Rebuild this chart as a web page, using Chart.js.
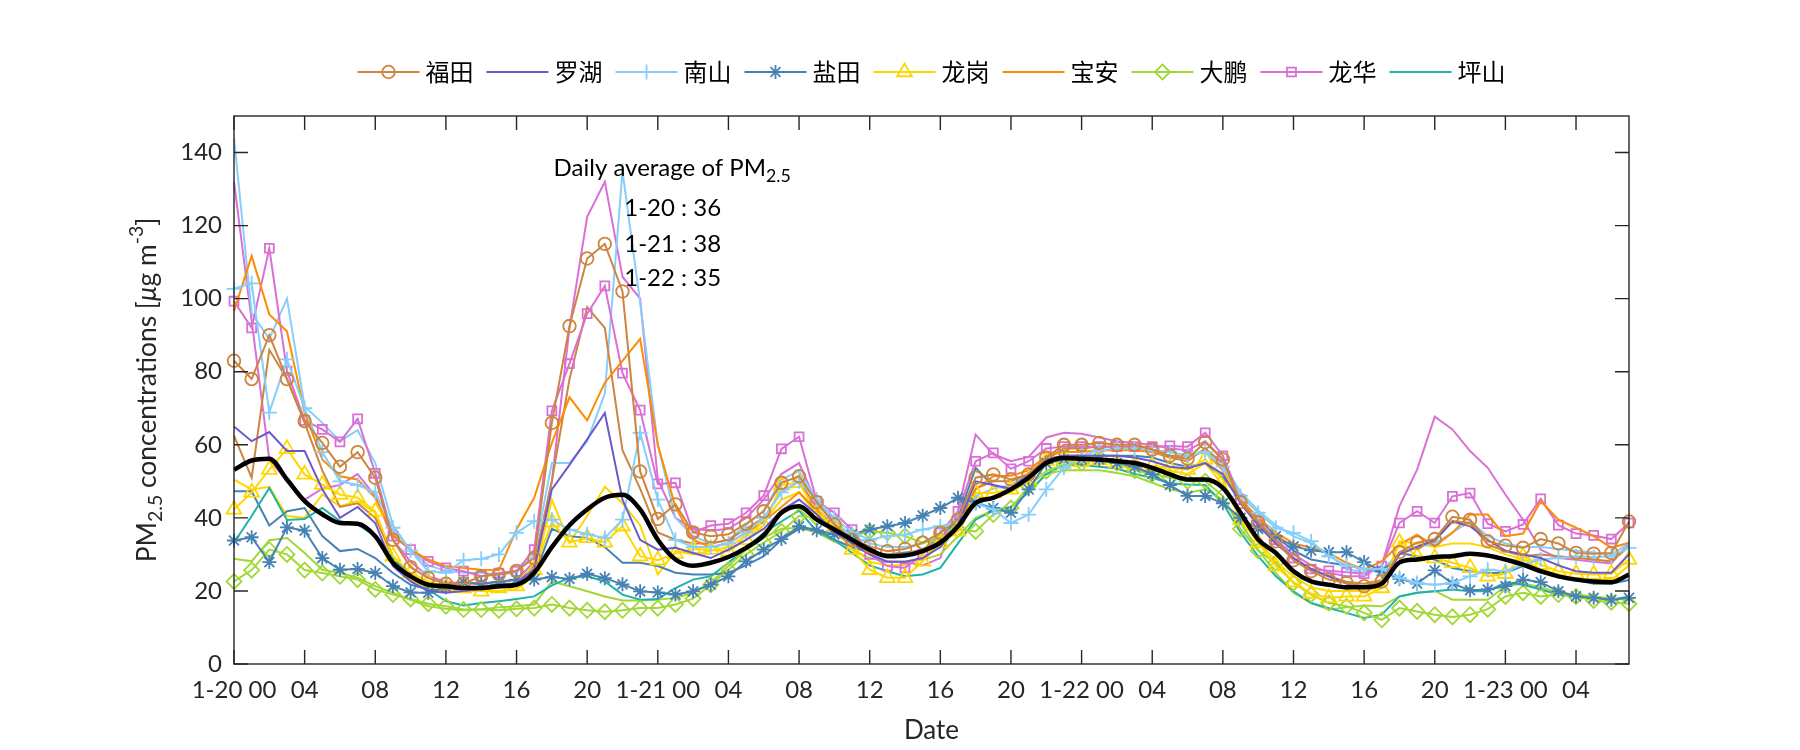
<!DOCTYPE html>
<html>
<head>
<meta charset="utf-8">
<script src="https://cdn.jsdelivr.net/npm/chart.js@4/dist/chart.umd.min.js"></script>
<style>
  html, body { margin: 0; padding: 0; background: #fff; }
  #wrap { width: 1800px; height: 750px; }
</style>
</head>
<body>
<div id="wrap"><canvas id="pm" width="1800" height="750"></canvas></div>
<script>
// hours since 1-20 00:00
var hours = Array.from({length: 80}, function (_, i) { return i; });
var tickLabels = ['1-20 00', '04', '08', '12', '16', '20', '1-21 00', '04', '08', '12', '16', '20',
                  '1-22 00', '04', '08', '12', '16', '20', '1-23 00', '04'];
var districts = ['福田', '罗湖', '南山', '盐田', '龙岗', '宝安', '大鹏', '龙华', '坪山'];
var dailyDays = ['1-20', '1-21', '1-22'];
var dailyMeans = [36, 38, 35];

// 福田
var futianA = [83, 78, 90, 78, 66.5, 60.5, 54, 58, 51, 34, 26.5, 23.5, 22, 22, 24, 24.5, 25.5, 29, 66, 92.5,
  111, 115, 102, 52.7, 39.7, 43.7, 36, 35, 35.5, 38.4, 41.8, 49.6, 51.4, 44.3, 38.2, 34, 32.2, 30.9, 31.5, 33.2,
  35.9, 39.5, 51, 51.9, 50.5, 51.9, 56.5, 60, 60, 60.5, 60, 60, 58.7, 57, 56.2, 60.7, 56, 44.3, 38.8, 33.6,
  28.4, 25.4, 23.1, 22.2, 21.3, 22.6, 30.6, 33.2, 34.2, 40.3, 39.5, 33.6, 32.4, 31.8, 34.2, 33, 30.4, 30.2, 30.4, 39];
var futianB = [62.5, 51, 86, 78, 66, 53, 43, 44, 40, 29.5, 24, 22, 21, 21, 21, 21.5, 22, 27, 50, 78,
  97.7, 92, 58.5, 48, 36, 34, 33, 33, 34, 37, 40, 47, 50, 43, 37, 33, 31, 29.5, 30, 31.5,
  34, 38, 48, 50, 50, 52, 56, 59, 59, 59.5, 59.5, 59, 58, 56.5, 55.5, 59, 55, 44, 38, 33,
  29, 26, 24, 22.5, 22, 23, 30.4, 32.2, 33.6, 39.1, 38.6, 32.7, 30.9, 29.5, 30, 29.5, 29, 28.6, 28.1, 32.2];
// 罗湖
var luohu = [65, 61, 63.5, 58.3, 58.3, 47.8, 40, 43, 38.6, 26.8, 22.6, 20, 19.5, 20, 20.5, 21, 22, 26, 47.8, 54.5,
  61.5, 68.7, 45, 34, 31.3, 31.8, 30.4, 29, 31.3, 34, 37, 42, 45, 41, 36, 33, 30, 28, 28, 29,
  32, 38, 50, 49, 48, 52, 56, 57, 57, 57, 57, 56.5, 55.5, 54, 53.5, 55, 52, 44, 38, 33,
  29, 26, 24, 22, 21, 22, 30, 32, 34, 39, 37.7, 34, 31, 30, 29, 27, 25.4, 25, 25, 30];
// 南山
var nanshanA = [102.7, 104.2, 68.8, 83.4, 70, 58, 50, 49, 47, 37.3, 31, 25.4, 25, 28.4, 28.8, 30, 35.9, 39.1, 39.5, 36.8,
  35.5, 34.5, 39.5, 63.3, 45, 34, 32, 32, 33, 36, 40, 47, 50, 45, 40, 36, 34, 35, 35.4, 36.8,
  37.7, 39.1, 44, 42.3, 38.6, 40.9, 47.8, 53.7, 57, 58.5, 59, 59, 58.5, 58, 57, 58, 54, 46, 41.4, 37.3,
  35.9, 33.6, 29.5, 27, 26, 26, 23.6, 22.2, 21.7, 22.2, 24, 25.8, 25.4, 27.2, 28.6, 29, 29.5, 29.3, 29.5, 31.8];
var nanshanB = [144, 96, 89, 100, 70.5, 66, 61, 64, 55, 38, 31, 27, 25.5, 25, 25, 24.5, 25, 30, 55, 55,
  61, 74, 135, 99, 60, 40, 35, 33, 34, 38, 42, 50.5, 52.8, 45, 39, 35, 33, 32, 32, 33,
  35, 38, 46, 48, 49, 52, 56, 59, 59.5, 59.5, 59.5, 59, 58.5, 58, 57, 58, 55, 47, 42, 38,
  35, 33, 30, 26, 25, 26, 30, 32, 33, 36, 39, 35, 33, 32, 32, 31.5, 31, 30.5, 30, 33];
// 盐田
var yantianA = [33.8, 34.7, 27.9, 37.4, 36.5, 29, 25.8, 26, 24.9, 21.3, 19.6, 19.5, 21, 22.4, 22, 22.5, 23.1, 23.1, 23.8, 23.3,
  24.7, 23.5, 21.8, 19.9, 19.6, 19, 19.9, 21.7, 24, 28.1, 31.3, 34.2, 37.7, 36.6, 35.5, 35.5, 36.8, 37.7, 38.6, 40.6,
  42.7, 45.5, 44.1, 42.7, 41.4, 47.8, 55, 56, 56, 56, 55, 54, 52, 49, 46, 46, 44, 40, 37, 35,
  32.2, 31.1, 30.6, 30.6, 27.9, 25.4, 23.3, 22, 25.6, 22, 20.2, 20.4, 21.3, 23.1, 22.4, 19.9, 18.5, 18.1, 17.6, 18.1];
var yantianB = [47.3, 47.3, 37.9, 41.8, 42.7, 35, 30.9, 31.5, 29, 24.9, 21.7, 20.4, 20, 21, 21, 22, 22, 24, 37, 35,
  34.5, 32, 27.7, 27.7, 26.8, 25, 24.5, 24.5, 25, 27, 29.5, 34, 37, 37, 34, 32, 30.5, 30, 30.5, 31,
  34, 40, 53.7, 48.7, 48, 51, 56, 57, 57, 57, 57, 57, 56.5, 55, 54, 55, 51, 45, 40, 35,
  31, 28.6, 27.7, 27, 26, 25, 30.4, 29.5, 28.6, 26.3, 25.4, 24.9, 25, 26.8, 25, 24, 23, 22, 22, 23];
// 龙岗
var longgangA = [42.3, 47, 53.2, 58.9, 51.9, 49.1, 46.4, 45.5, 41.8, 29.5, 24.9, 22.6, 21.3, 20.8, 19.9, 20.8, 21.3, 25.8, 38.8, 33.3,
  34.5, 33.3, 37.7, 29.5, 28.4, 30.2, 31.5, 31.3, 30.8, 34, 38, 49, 49.6, 41.4, 37.7, 31.3, 25.8, 23.6, 23.6, 28.1,
  33.2, 36.3, 46.8, 46.8, 47.8, 50.5, 55.7, 56.2, 55.3, 55.8, 55, 54.6, 54.2, 53.7, 53.2, 56, 50.5, 39.5, 33.2, 26.8,
  22.4, 19.3, 18.1, 18.5, 18.5, 20.8, 33.2, 29.5, 29, 27.7, 26.3, 24, 24.7, 29.5, 27.2, 25.4, 24.7, 24.5, 24.7, 28.6];
var longgangB = [50.5, 47.8, 48.5, 40.5, 40, 46.4, 43.2, 44.6, 41.4, 27.7, 23, 21, 20.5, 20, 20, 20, 20.5, 24, 45, 33.2,
  40.5, 48.5, 44, 38, 24.5, 30.9, 30, 31, 32, 35, 39, 45, 47, 41, 36, 32, 28, 27, 27, 29,
  33, 37, 44, 46, 47, 50, 55, 57, 57, 56, 56, 55, 54, 53, 52, 55, 49, 40, 34, 28,
  24, 21, 20, 20, 20, 21, 33.6, 33, 32, 33, 33, 32, 30, 28.6, 26, 24.5, 23.5, 23, 23, 27];
// 宝安
var baoan = [96.6, 111.7, 95.7, 91.1, 68.8, 56, 51.4, 50.5, 45.5, 35.4, 31.3, 28.6, 26.8, 26.3, 25.8, 25.7, 36.8, 45.5, 60.5, 73,
  66.7, 77, 83, 89, 60, 43, 34, 32, 33, 36, 39, 43, 47, 42, 37, 33, 30, 30, 30, 31,
  33, 37, 47.8, 51.4, 51.5, 53, 57, 58, 58, 58.5, 58.5, 58.5, 58, 57, 57, 58, 53, 45, 40, 36,
  33, 31.8, 30.4, 27.7, 25.8, 28.1, 32.7, 35.4, 32.2, 35.9, 40.9, 40.9, 35, 35.7, 44.6, 39.5, 37.3, 35, 31.8, 33.2];
// 大鹏
var dapengA = [22.6, 25.7, 31.3, 30, 25.7, 24.9, 24, 23.1, 20.4, 19, 17.8, 16.5, 15.8, 14.9, 14.9, 14.7, 15.1, 15.3, 16.3, 15.3,
  14.7, 14.3, 14.7, 15.3, 15.3, 16.3, 17.9, 21.7, 25.8, 30, 33.2, 36.3, 40.5, 40, 37.7, 35, 36.3, 35.9, 35, 33.2,
  34, 36.8, 36.3, 40.9, 42.7, 48.7, 52.8, 54.6, 55, 56.5, 55, 53, 52, 51, 50, 50, 46, 37, 31, 27.7,
  22.2, 19, 16.7, 15.8, 14, 12.1, 15.3, 14.4, 13.5, 12.9, 13.5, 15, 18.5, 19.5, 18.5, 19, 18.5, 17.4, 16.9, 16.5];
var dapengB = [28.8, 28.1, 33.9, 34.5, 30.4, 25.8, 24.9, 23.6, 21.3, 19.5, 17.6, 15.8, 15.1, 14.7, 15, 15.5, 15.8, 16.3, 22.6, 21.3,
  19.9, 18.5, 17.4, 17.4, 17.6, 18.1, 19.5, 22.2, 26.8, 31.3, 34.5, 37, 37.3, 36, 33.5, 31.3, 29, 28, 28, 28.5,
  30, 35, 40, 42, 43, 47, 52, 53, 53, 53, 52.3, 51.4, 49.6, 47.8, 46.8, 47.8, 45, 38.6, 31.3, 24.9,
  19.5, 16.7, 14.9, 15.5, 16, 15.8, 18.5, 19.5, 20, 17.6, 17.6, 17.6, 21.3, 22, 21, 19.5, 19, 18.5, 18, 17.5];
// 龙华
var longhuaA = [99.3, 92, 113.8, 80.2, 66.7, 64.2, 60.8, 67.1, 52.2, 35, 31.3, 28.1, 26.3, 25.4, 24, 24.9, 25.4, 31.3, 69.3, 82.2,
  95.9, 103.5, 79.6, 69.5, 49.3, 49.6, 36.1, 37.9, 38.4, 41.4, 46.1, 58.9, 62.2, 44.6, 41.4, 36.8, 30, 26.8, 26.3, 30,
  35.9, 41.8, 55.5, 57.8, 53.4, 55.5, 59, 59.5, 59.5, 59.5, 59.5, 59.5, 59.5, 59.7, 59.5, 63.3, 57, 45, 39, 34,
  29, 26, 25.5, 25.1, 24.7, 26.8, 38.6, 41.8, 38.6, 45.9, 46.8, 38.4, 36.3, 38.2, 45.2, 38, 35.7, 35.2, 34.2, 38.6];
var longhuaB = [132, 94, 56, 50, 45, 48, 49, 52, 46, 34, 28, 24, 22.5, 22, 22, 22.5, 23, 28, 50, 92,
  122.4, 132, 106, 100, 50.5, 40, 37, 36.5, 37, 40, 45, 52, 55, 44, 39, 34, 30, 28, 28, 27,
  29, 42, 62.8, 57.4, 55.5, 56.7, 62, 63.3, 63, 62, 61, 60.5, 60, 59, 58.5, 61, 56, 45, 39, 34,
  30, 27, 25, 24, 24, 27, 43.2, 53.2, 67.7, 64.2, 58.3, 53.7, 46.4, 39.5, 31.3, 29, 28.5, 28, 27.5, 33];
// 坪山
var pingshan = [33.2, 40.5, 48.2, 39.4, 39.7, 42.7, 39.1, 38.2, 35, 29, 24, 20.4, 17.2, 16, 16.7, 17.2, 17.8, 18.5, 21.5, 23.6,
  24, 22.6, 19, 17.6, 17.8, 20.8, 23.1, 24, 27.7, 31.8, 35.9, 39, 42, 36.3, 34, 30.4, 27, 25.4, 24, 24.5,
  26.3, 33, 39.5, 42, 43, 47, 52, 54.5, 54.5, 54, 53.5, 52, 51, 49.5, 49.1, 49, 44, 36, 29.5, 24,
  19.9, 16.7, 15.3, 14, 12.6, 13.5, 18.5, 19.5, 19.9, 20.4, 19.9, 19.9, 22.4, 21.7, 20.4, 19, 18.5, 18.1, 17.6, 18.5];
// average of all stations
var average = [53.2, 55.7, 56.2, 50.5, 44.6, 41, 38.6, 38.4, 35, 27.7, 24, 21.7, 21.3, 20.8, 20.8, 21.3, 21.7, 25, 32, 38,
  42.3, 45.5, 46.3, 42.3, 34, 28.6, 26.9, 27.7, 29.3, 31.8, 35.2, 41.4, 43.2, 39.5, 36.8, 34, 31.3, 29.5, 29.7, 30.9,
  33.2, 37.7, 44.1, 45.5, 47.8, 51, 55, 56.4, 56.2, 56, 55.5, 55, 53.7, 51.9, 50.5, 50.5, 48.2, 41.4, 34.1, 30.4,
  25.4, 22.6, 21.7, 21, 21, 22, 27.8, 28.6, 29.3, 29.5, 30.2, 29.7, 28.6, 27.2, 25.4, 24, 23.1, 22.6, 22.4, 24.5];

var colors = ['#CD853F', '#6A5ACD', '#87CEFA', '#4682B4', '#FFD700', '#FF8C00', '#A2D836', '#DA70D6', '#20B2AA'];
var markers = ['circle', null, 'cross', 'star', 'triangle', null, 'rectRot', 'rect', null];
var markerSize = {circle: 6.3, cross: 7.5, star: 7, triangle: 8.5, rectRot: 7.5, rect: 6.3};

function pts(values) {
  return values.map(function (v, i) { return {x: hours[i], y: v}; });
}

function station(d, values, withMarker) {
  var m = withMarker ? markers[d] : null;
  return {
    label: districts[d],
    inLegend: withMarker,
    data: pts(values),
    borderColor: colors[d],
    borderWidth: 2,
    pointStyle: m || 'circle',
    pointRadius: m ? markerSize[m] : 0,
    pointBorderWidth: 1.8,
    pointBorderColor: colors[d],
    pointBackgroundColor: 'rgba(0,0,0,0)',
    tension: 0,
    clip: false,
    order: withMarker ? 10 : 20
  };
}

var datasets = [
  station(0, futianA, true),
  station(1, luohu, true),
  station(2, nanshanA, true),
  station(3, yantianA, true),
  station(4, longgangA, true),
  station(5, baoan, true),
  station(6, dapengA, true),
  station(7, longhuaA, true),
  station(8, pingshan, true),
  station(0, futianB, false),
  station(2, nanshanB, false),
  station(3, yantianB, false),
  station(4, longgangB, false),
  station(6, dapengB, false),
  station(7, longhuaB, false),
  {
    label: 'average',
    inLegend: false,
    data: pts(average),
    borderColor: '#000',
    borderWidth: 4.5,
    pointRadius: 0,
    cubicInterpolationMode: 'monotone',
    clip: false,
    order: 0
  }
];

var tickFont = {family: 'Lato', size: 24};
var axisColor = '#262626';

function drawMarker(ctx, style, x, y, r) {
  ctx.beginPath();
  if (style === 'circle') {
    ctx.arc(x, y, r, 0, Math.PI * 2);
  } else if (style === 'cross') {
    ctx.moveTo(x - r, y); ctx.lineTo(x + r, y);
    ctx.moveTo(x, y - r); ctx.lineTo(x, y + r);
  } else if (style === 'star') {
    var k = r * Math.SQRT1_2;
    ctx.moveTo(x - r, y); ctx.lineTo(x + r, y);
    ctx.moveTo(x, y - r); ctx.lineTo(x, y + r);
    ctx.moveTo(x - k, y - k); ctx.lineTo(x + k, y + k);
    ctx.moveTo(x - k, y + k); ctx.lineTo(x + k, y - k);
  } else if (style === 'triangle') {
    ctx.moveTo(x, y - r);
    ctx.lineTo(x + r * Math.sin(Math.PI * 2 / 3), y - r * Math.cos(Math.PI * 2 / 3));
    ctx.lineTo(x + r * Math.sin(Math.PI * 4 / 3), y - r * Math.cos(Math.PI * 4 / 3));
    ctx.closePath();
  } else if (style === 'rectRot') {
    ctx.moveTo(x, y - r); ctx.lineTo(x + r, y); ctx.lineTo(x, y + r); ctx.lineTo(x - r, y);
    ctx.closePath();
  } else if (style === 'rect') {
    var s = r * Math.SQRT1_2;
    ctx.rect(x - s, y - s, 2 * s, 2 * s);
  }
  ctx.stroke();
}

// text runs with sub- and superscripts
function richText(ctx, parts, x, y, size, align) {
  var fontOf = function (p) {
    var sz = p[1] === 'sub' || p[1] === 'sup' ? size * 0.74 : size;
    return (p[1] === 'it' ? 'italic ' : '') + sz + 'px Lato';
  };
  var total = 0;
  parts.forEach(function (p) { ctx.font = fontOf(p); total += ctx.measureText(p[0]).width; });
  var cx = align === 'center' ? x - total / 2 : x;
  ctx.textAlign = 'left';
  ctx.textBaseline = 'middle';
  parts.forEach(function (p) {
    ctx.font = fontOf(p);
    var dy = p[1] === 'sub' ? size * 0.33 : (p[1] === 'sup' ? -size * 0.38 : 0);
    ctx.fillText(p[0], cx, y + dy);
    cx += ctx.measureText(p[0]).width;
  });
}

var decor = {
  id: 'decor',
  afterDatasetsDraw: function (chart) {
    var ctx = chart.ctx, a = chart.chartArea, xs = chart.scales.x, ys = chart.scales.y;
    ctx.save();
    // axes box with inward ticks
    ctx.strokeStyle = axisColor;
    ctx.lineWidth = 1.4;
    ctx.strokeRect(a.left, a.top, a.right - a.left, a.bottom - a.top);
    ctx.beginPath();
    xs.ticks.forEach(function (t) {
      var px = xs.getPixelForValue(t.value);
      ctx.moveTo(px, a.bottom); ctx.lineTo(px, a.bottom - 14);
      ctx.moveTo(px, a.top); ctx.lineTo(px, a.top + 14);
    });
    ys.ticks.forEach(function (t) {
      var py = ys.getPixelForValue(t.value);
      ctx.moveTo(a.left, py); ctx.lineTo(a.left + 14, py);
      ctx.moveTo(a.right, py); ctx.lineTo(a.right - 14, py);
    });
    ctx.stroke();

    // daily average note
    ctx.fillStyle = '#000';
    richText(ctx, [['Daily average of PM', ''], ['2.5', 'sub']],
      xs.getPixelForValue(18.1), ys.getPixelForValue(135.7), 24, 'left');
    var noteY = [124.7, 114.9, 105.6];
    dailyDays.forEach(function (d, i) {
      richText(ctx, [[d + ' : ' + dailyMeans[i], '']], xs.getPixelForValue(22.1), ys.getPixelForValue(noteY[i]), 24, 'left');
    });

    // axis titles
    ctx.fillStyle = axisColor;
    ctx.font = '26px Lato';
    ctx.textAlign = 'center';
    ctx.textBaseline = 'middle';
    ctx.fillText('Date', (a.left + a.right) / 2, 731);
    ctx.save();
    ctx.translate(147, (a.top + a.bottom) / 2);
    ctx.rotate(-Math.PI / 2);
    richText(ctx, [['PM', ''], ['2.5', 'sub'], [' concentrations [', ''], ['\u03bc', 'it'], ['g m', ''], ['-3', 'sup'], [']', '']],
      0, 0, 26.4, 'center');
    ctx.restore();

    // legend: line sample with marker, then name
    var entries = chart.data.datasets.filter(function (ds) { return ds.inLegend; });
    ctx.font = '24px "Noto Sans CJK SC"';
    var lineLen = 62, gapText = 6, gapItem = 13;
    var widths = entries.map(function (ds) { return lineLen + gapText + ctx.measureText(ds.label).width; });
    var total = widths.reduce(function (s, w) { return s + w; }, 0) + gapItem * (entries.length - 1);
    var lx = (a.left + a.right) / 2 - total / 2, ly = 72;
    entries.forEach(function (ds, i) {
      ctx.strokeStyle = ds.borderColor;
      ctx.lineWidth = 2;
      ctx.beginPath();
      ctx.moveTo(lx, ly); ctx.lineTo(lx + lineLen, ly);
      ctx.stroke();
      if (ds.pointRadius > 0) {
        ctx.lineWidth = 1.8;
        drawMarker(ctx, ds.pointStyle, lx + lineLen / 2, ly, ds.pointRadius);
      }
      ctx.fillStyle = '#000';
      ctx.textAlign = 'left';
      ctx.textBaseline = 'middle';
      ctx.font = '24px "Noto Sans CJK SC"';
      ctx.fillText(ds.label, lx + lineLen + gapText, ly);
      lx += widths[i] + gapItem;
    });
    ctx.restore();
  }
};

new Chart(document.getElementById('pm'), {
  type: 'line',
  data: {datasets: datasets},
  options: {
    responsive: false,
    animation: false,
    devicePixelRatio: 1,
    layout: {padding: {top: 116, right: 171, bottom: 0, left: 0}},
    plugins: {legend: {display: false}, tooltip: {enabled: false}},
    scales: {
      x: {
        type: 'linear',
        min: 0,
        max: 79,
        grid: {display: false, drawTicks: false},
        border: {display: false},
        ticks: {
          stepSize: 4,
          includeBounds: false,
          autoSkip: false,
          maxRotation: 0,
          padding: 12,
          color: axisColor,
          font: tickFont,
          callback: function (v) { return tickLabels[v / 4]; }
        },
        afterFit: function (s) { s.height = 86; }
      },
      y: {
        min: 0,
        max: 150,
        grid: {display: false, drawTicks: false},
        border: {display: false},
        ticks: {stepSize: 20, includeBounds: false, padding: 12, color: axisColor, font: tickFont},
        afterFit: function (s) { s.width = 234; }
      }
    }
  },
  plugins: [decor]
});
</script>
</body>
</html>
